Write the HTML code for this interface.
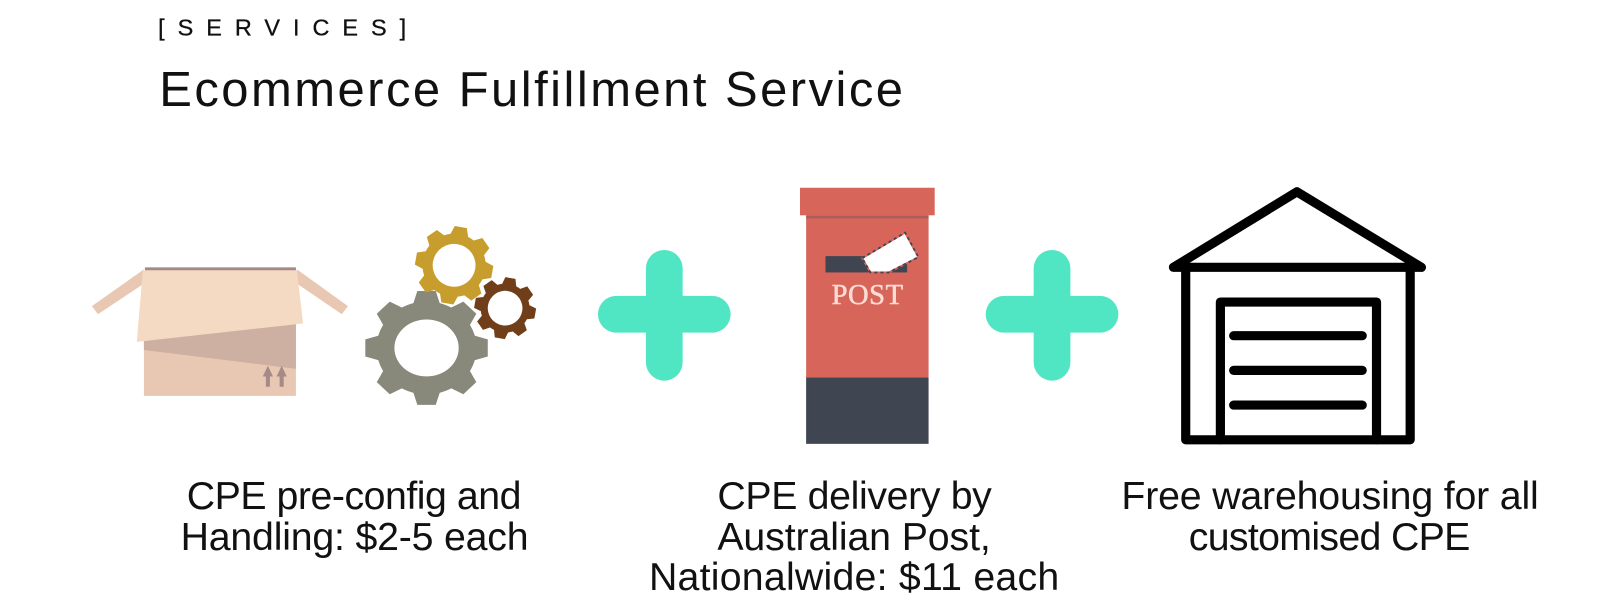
<!DOCTYPE html>
<html>
<head>
<meta charset="utf-8">
<style>
html,body{margin:0;padding:0;background:#fff;width:1600px;height:611px;overflow:hidden}
svg{display:block}
.b{font-family:"Liberation Sans",sans-serif;font-size:38.5px;fill:#111}
</style>
</head>
<body>
<svg width="1600" height="611" viewBox="0 0 1568 598.8" xmlns="http://www.w3.org/2000/svg">
<rect width="1568" height="599" fill="#fff"/>

<text x="155" y="35" font-family="Liberation Sans,sans-serif" font-size="23" fill="#111" stroke="#111" stroke-width=".3" textLength="243" lengthAdjust="spacing">[SERVICES]</text>
<text x="156" y="104" font-family="Liberation Sans,sans-serif" font-size="48" fill="#111" textLength="729" lengthAdjust="spacing">Ecommerce Fulfillment Service</text>

<!-- box -->
<polygon points="141,264 90,300 96,308 141,278" fill="#e9c8b3"/>
<polygon points="291,264 341,300 335,308 291,278" fill="#e9c8b3"/>
<rect x="141" y="317" width="149" height="71" fill="#e9c8b3"/>
<polygon points="141,330 290,315 290,361.5 141,343" fill="#ceb0a2"/>
<rect x="142" y="262" width="148" height="3" fill="#a58a84"/>
<polygon points="140,265 291,265 297,317 134,335" fill="#f5dac3"/>
<polygon points="262.5,358.5 257.5,369 260.5,369 260.5,379 264.5,379 264.5,369 267.5,369" fill="#a58a88"/>
<polygon points="276,358.5 271,369 274,369 274,379 278,379 278,369 281,369" fill="#a58a88"/>

<!-- big gear -->
<g transform="translate(418 341) scale(1 .93)" fill="#88897a">
<circle r="49"/>
<polygon points="-13,-47 -9,-60 9,-60 13,-47" transform="rotate(0)"/>
<polygon points="-13,-47 -9,-60 9,-60 13,-47" transform="rotate(45)"/>
<polygon points="-13,-47 -9,-60 9,-60 13,-47" transform="rotate(90)"/>
<polygon points="-13,-47 -9,-60 9,-60 13,-47" transform="rotate(135)"/>
<polygon points="-13,-47 -9,-60 9,-60 13,-47" transform="rotate(180)"/>
<polygon points="-13,-47 -9,-60 9,-60 13,-47" transform="rotate(225)"/>
<polygon points="-13,-47 -9,-60 9,-60 13,-47" transform="rotate(270)"/>
<polygon points="-13,-47 -9,-60 9,-60 13,-47" transform="rotate(315)"/>
<ellipse rx="31.5" ry="30" fill="#fff"/>
</g>

<!-- gold gear -->
<g transform="translate(445 260) rotate(10)" fill="#c79d2e">
<circle r="31"/>
<polygon points="-9,-29 -6,-38 6,-38 9,-29" transform="rotate(0)"/>
<polygon points="-9,-29 -6,-38 6,-38 9,-29" transform="rotate(45)"/>
<polygon points="-9,-29 -6,-38 6,-38 9,-29" transform="rotate(90)"/>
<polygon points="-9,-29 -6,-38 6,-38 9,-29" transform="rotate(135)"/>
<polygon points="-9,-29 -6,-38 6,-38 9,-29" transform="rotate(180)"/>
<polygon points="-9,-29 -6,-38 6,-38 9,-29" transform="rotate(225)"/>
<polygon points="-9,-29 -6,-38 6,-38 9,-29" transform="rotate(270)"/>
<polygon points="-9,-29 -6,-38 6,-38 9,-29" transform="rotate(315)"/>
<circle r="21" fill="#fff"/>
</g>

<!-- brown gear -->
<g transform="translate(495 302) rotate(10)" fill="#703e19">
<circle r="24"/>
<polygon points="-7,-23 -5,-30 5,-30 7,-23" transform="rotate(0)"/>
<polygon points="-7,-23 -5,-30 5,-30 7,-23" transform="rotate(45)"/>
<polygon points="-7,-23 -5,-30 5,-30 7,-23" transform="rotate(90)"/>
<polygon points="-7,-23 -5,-30 5,-30 7,-23" transform="rotate(135)"/>
<polygon points="-7,-23 -5,-30 5,-30 7,-23" transform="rotate(180)"/>
<polygon points="-7,-23 -5,-30 5,-30 7,-23" transform="rotate(225)"/>
<polygon points="-7,-23 -5,-30 5,-30 7,-23" transform="rotate(270)"/>
<polygon points="-7,-23 -5,-30 5,-30 7,-23" transform="rotate(315)"/>
<circle r="17" fill="#fff"/>
</g>

<!-- plus signs -->
<g fill="#50e5c3">
<rect x="586" y="290" width="130" height="36" rx="18"/>
<rect x="633" y="245" width="36" height="128" rx="18"/>
<rect x="966" y="290" width="130" height="36" rx="18"/>
<rect x="1013" y="245" width="36" height="128" rx="18"/>
</g>

<!-- post box -->
<rect x="790" y="211" width="120" height="159" fill="#d7655a"/>
<rect x="790" y="211" width="120" height="3" fill="#a85f5a"/>
<rect x="784" y="184" width="132" height="27" fill="#d7655a"/>
<rect x="790" y="370" width="120" height="65" fill="#3f4551"/>
<rect x="809" y="251" width="80" height="16" fill="#3f4551"/>
<polygon points="845,253 887,228 900,252 871,267 853,267" fill="#fff" stroke="#d7655a" stroke-width="1.8"/>
<polygon points="845,253 887,228 900,252 871,267 853,267" fill="none" stroke="#3f4551" stroke-width="1.8" stroke-dasharray="3 3"/>
<text x="815" y="298" font-family="Liberation Serif,serif" font-size="28" fill="#fbdcd5" stroke="#fbdcd5" stroke-width=".5" textLength="70" lengthAdjust="spacing">POST</text>

<!-- garage -->
<g fill="none" stroke="#000" stroke-width="9" stroke-linecap="round" stroke-linejoin="round">
<polygon points="1271,188 1393,262 1150,262"/>
<polyline points="1162,262 1162,431 1382,431 1382,262"/>
<polyline points="1196,431 1196,296 1349,296 1349,431"/>
<line x1="1209" y1="329" x2="1335" y2="329"/>
<line x1="1209" y1="363" x2="1335" y2="363"/>
<line x1="1209" y1="397" x2="1335" y2="397"/>
</g>

<!-- labels -->
<text class="b" x="183" y="499" textLength="328" lengthAdjust="spacing">CPE pre-config and</text>
<text class="b" x="177" y="539" textLength="341" lengthAdjust="spacing">Handling: $2-5 each</text>
<text class="b" x="703" y="499" textLength="269" lengthAdjust="spacing">CPE delivery by</text>
<text class="b" x="703" y="539" textLength="268" lengthAdjust="spacing">Australian Post,</text>
<text class="b" x="636" y="578" textLength="402" lengthAdjust="spacing">Nationalwide: $11 each</text>
<text class="b" x="1099" y="499" textLength="409" lengthAdjust="spacing">Free warehousing for all</text>
<text class="b" x="1165" y="539" textLength="276" lengthAdjust="spacing">customised CPE</text>
</svg>
</body>
</html>
